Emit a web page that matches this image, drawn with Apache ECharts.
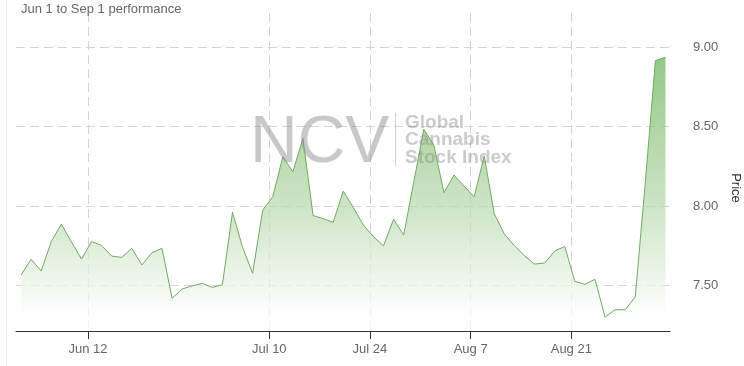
<!DOCTYPE html>
<html>
<head>
<meta charset="utf-8">
<script src="https://cdn.jsdelivr.net/npm/echarts@6/dist/echarts.min.js"></script>
<style>
html,body{margin:0;padding:0;background:#fff;}
#chart{width:744px;height:366px;}
</style>
</head>
<body>
<div id="chart"></div>
<script>
// Trading days, Jun 1 to Sep 1
const dates = [
  'Jun 1','Jun 2','Jun 5','Jun 6','Jun 7','Jun 8','Jun 9','Jun 12','Jun 13','Jun 14','Jun 15','Jun 16',
  'Jun 19','Jun 20','Jun 21','Jun 22','Jun 23','Jun 26','Jun 27','Jun 28','Jun 29','Jun 30',
  'Jul 5','Jul 6','Jul 7','Jul 10','Jul 11','Jul 12','Jul 13','Jul 14','Jul 17','Jul 18','Jul 19','Jul 20','Jul 21',
  'Jul 24','Jul 25','Jul 26','Jul 27','Jul 28','Jul 31',
  'Aug 1','Aug 2','Aug 3','Aug 4','Aug 7','Aug 8','Aug 9','Aug 10','Aug 11','Aug 14','Aug 15','Aug 16','Aug 17','Aug 18',
  'Aug 21','Aug 22','Aug 23','Aug 24','Aug 25','Aug 28','Aug 29','Aug 30','Aug 31','Sep 1'
];
const prices = [
  7.565, 7.664, 7.59, 7.775, 7.885, 7.775, 7.665, 7.775, 7.752, 7.684,
  7.676, 7.733, 7.628, 7.705, 7.733, 7.418, 7.477, 7.496, 7.512, 7.487,
  7.504, 7.96, 7.74, 7.576, 7.974, 8.058, 8.31, 8.216, 8.426, 7.94,
  7.92, 7.897, 8.094, 7.99, 7.88, 7.806, 7.748, 7.916, 7.817, 8.15,
  8.483, 8.384, 8.083, 8.195, 8.125, 8.058, 8.315, 7.95, 7.823, 7.75,
  7.686, 7.634, 7.64, 7.716, 7.745, 7.525, 7.506, 7.538, 7.30, 7.346,
  7.346, 7.426, 8.15, 8.916, 8.937
];
const xTickLabels = ['Jun 12', 'Jul 10', 'Jul 24', 'Aug 7', 'Aug 21'];
const yTickValues = [7.5, 8.0, 8.5, 9.0];
const titleText = 'Jun 1 to Sep 1 performance';
const yAxisName = 'Price';

const tickShift = 0.35;
const xTickPos = xTickLabels.map(l => dates.indexOf(l) - tickShift);
const seriesData = prices.map((v, i) => [i, v]);

const FONT = "'Liberation Sans', Arial, sans-serif";
const chart = echarts.init(document.getElementById('chart'), null, {renderer: 'canvas'});
chart.setOption({
  animation: false,
  backgroundColor: '#fff',
  title: {
    text: titleText, left: 16, top: -2,
    textStyle: {fontSize: 13, fontWeight: 'normal', color: '#666', fontFamily: FONT}
  },
  grid: {left: 16, right: 74, top: 13, bottom: 35, containLabel: false, outerBoundsMode: 'none'},
  xAxis: {
    type: 'value', min: -0.5, max: 64.45,
    axisLine: {show: true, lineStyle: {color: '#333', width: 1}},
    axisTick: {show: true, length: 8, customValues: xTickPos, lineStyle: {color: '#333'}},
    axisLabel: {
      customValues: xTickPos, margin: 12, fontSize: 13, color: '#666', fontFamily: FONT,
      formatter: function (v) {
        let best = 0, bd = 1e9;
        xTickPos.forEach((p, k) => { const d = Math.abs(p - v); if (d < bd) { bd = d; best = k; } });
        return xTickLabels[best];
      }
    },
    splitLine: {show: true, lineStyle: {color: '#d4d4d4', type: [9, 5], width: 1}}
  },
  yAxis: {
    type: 'value', position: 'right', min: 7.212, max: 9.216,
    name: yAxisName, nameLocation: 'middle', nameRotate: -90, nameGap: 57,
    nameTextStyle: {fontSize: 13, color: '#333', fontFamily: FONT, padding: [0, 0, 0, 32]},
    axisLine: {show: false},
    axisTick: {show: false, customValues: yTickValues},
    axisLabel: {
      customValues: yTickValues, margin: 23, fontSize: 13, color: '#666', fontFamily: FONT,
      formatter: v => v.toFixed(2)
    },
    splitLine: {show: true, lineStyle: {color: '#d4d4d4', type: [9, 5], width: 1}}
  },
  graphic: [
    {type: 'line', shape: {x1: 6.5, y1: 0, x2: 6.5, y2: 366}, style: {stroke: '#eeeeee', lineWidth: 1}, z: 0},
    {type: 'text', x: 250, y: 111, z: 100, style: {text: 'NCV', font: "normal 66px " + FONT, fill: 'rgba(140,140,140,0.48)', textVerticalAlign: 'top'}},
    {type: 'line', shape: {x1: 395.5, y1: 113, x2: 395.5, y2: 166}, z: 100, style: {stroke: 'rgba(140,140,140,0.4)', lineWidth: 1}},
    {type: 'text', x: 405, y: 113, z: 100, style: {text: 'Global', font: "bold 19px " + FONT, fill: 'rgba(140,140,140,0.45)', textVerticalAlign: 'top'}},
    {type: 'text', x: 405, y: 130.5, z: 100, style: {text: 'Cannabis', font: "bold 19px " + FONT, fill: 'rgba(140,140,140,0.45)', textVerticalAlign: 'top'}},
    {type: 'text', x: 405, y: 148, z: 100, style: {text: 'Stock Index', font: "bold 19px " + FONT, fill: 'rgba(140,140,140,0.45)', textVerticalAlign: 'top'}}
  ],
  series: [{
    type: 'line',
    data: seriesData,
    symbol: 'none',
    lineStyle: {color: '#70ab60', width: 1},
    areaStyle: {
      origin: 'start',
      color: new echarts.graphic.LinearGradient(0, 0, 0, 1, [
        {offset: 0, color: 'rgba(104,176,84,1)'},
        {offset: 0.55, color: 'rgba(184,218,174,1)'},
        {offset: 0.95, color: 'rgba(255,255,255,1)'},
        {offset: 1, color: 'rgba(255,255,255,1)'}
      ])
    }
  }]
});
</script>
</body>
</html>
